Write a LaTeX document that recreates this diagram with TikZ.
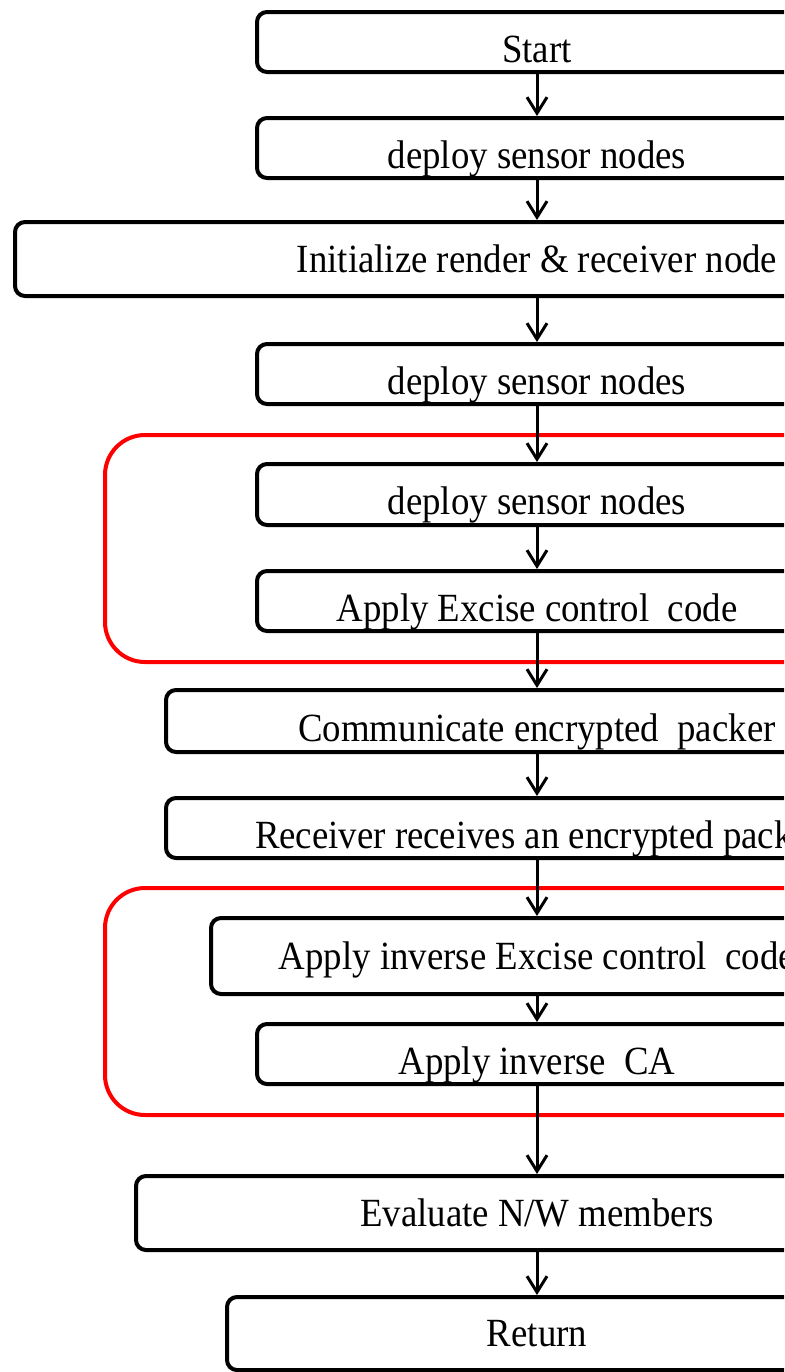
\documentclass[tikz,border=0pt]{standalone}
\usepackage{fontspec}
\setmainfont{Liberation Serif}[FakeStretch=0.92]
\usetikzlibrary{arrows.meta}

\tikzset{
	stepbox/.style={draw, line width=2pt, rounded corners=5pt, inner sep=0pt, fill=white,
		font=\fontsize{20pt}{24pt}\selectfont, text height=14pt, text depth=1pt},
	lowtext/.style={text height=20pt, text depth=0pt},
	groupbox/.style={draw=red, line width=2pt, rounded corners=20pt},
	flow/.style={-{Straight Barb[length=8pt,width=10pt]}, line width=1.5pt}
}

\begin{document}
\begin{tikzpicture}[x=0.5pt,y=-0.5pt]
	
	\useasboundingbox (0,0) rectangle (784,1372);
	\clip (0,0) rectangle (784,1372);
	
	% Draw group frames
	\draw[groupbox] (105,435) rectangle (969,662);
	\draw[groupbox] (105,888) rectangle (969,1115);
	
	% Draw nodes
	\node[stepbox,lowtext,minimum width=280pt,minimum height=30pt] (Start) at (537,42) {Start};
	\node[stepbox,lowtext,minimum width=280pt,minimum height=30pt] (DSN1) at (537,148) {deploy sensor nodes};
	\node[stepbox,minimum width=522pt,minimum height=37pt] (IRR) at (537,259) {Initialize render \& receiver node};
	\node[stepbox,lowtext,minimum width=280pt,minimum height=30pt] (DSN2) at (537,374) {deploy sensor nodes};
	\node[stepbox,lowtext,minimum width=280pt,minimum height=30.5pt] (DSN3) at (537,494.5) {deploy sensor nodes};
	\node[stepbox,lowtext,minimum width=280pt,minimum height=30pt] (AEC) at (537,601) {Apply Excise control\ \ code};
	\node[stepbox,lowtext,minimum width=371pt,minimum height=31pt] (CEP) at (537,721) {Communicate encrypted\ \ packer};
	\node[stepbox,lowtext,minimum width=371pt,minimum height=30pt] (RRP) at (537,828) {Receiver receives an encrypted packet};
	\node[stepbox,minimum width=326pt,minimum height=38pt] (AIE) at (537,956) {Apply inverse Excise control\ \ code};
	\node[stepbox,lowtext,minimum width=280pt,minimum height=30pt] (AIC) at (537,1054) {Apply inverse\ \ CA};
	\node[stepbox,minimum width=401pt,minimum height=37pt] (ENW) at (537,1213) {Evaluate N/W members};
	\node[stepbox,minimum width=310pt,minimum height=36.5pt] (Ret) at (537,1333.5) {Return};
	
	% Draw arrows, top to bottom
	\draw[flow] (Start) to (DSN1);
	\draw[flow] (DSN1) to (IRR);
	\draw[flow] (IRR) to (DSN2);
	\draw[flow] (DSN2) to (DSN3);
	\draw[flow] (DSN3) to (AEC);
	\draw[flow] (AEC) to (CEP);
	\draw[flow] (CEP) to (RRP);
	\draw[flow] (RRP) to (AIE);
	\draw[flow] (AIE) to (AIC);
	\draw[flow] (AIC) to (ENW);
	\draw[flow] (ENW) to (Ret);
	
\end{tikzpicture}
\end{document}
